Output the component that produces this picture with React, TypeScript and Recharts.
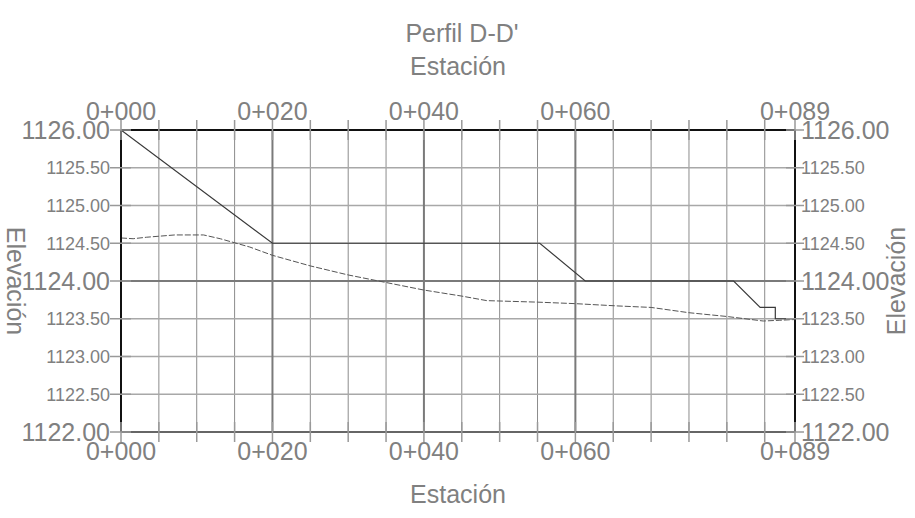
import { ComposedChart, Line, XAxis, YAxis, ReferenceLine } from "recharts";

// --- Perfil D-D' data ---
const DESIGN_STATIONS = [0, 20, 55.3, 61.3, 80.9, 84.4, 86.4, 86.4, 89];
const DESIGN_ELEV = [1126.0, 1124.5, 1124.5, 1124.0, 1124.0, 1123.65, 1123.65, 1123.5, 1123.5];

const TERRAIN_STATIONS = [0, 1.6, 3.4, 7.1, 10.9, 13.1, 17, 20, 25, 30, 35, 40, 45, 48.3, 55, 60, 65.5, 70, 75, 80, 84.8, 87, 89];
const TERRAIN_ELEV = [
  1124.57, 1124.56, 1124.58, 1124.61, 1124.61, 1124.56, 1124.45, 1124.34, 1124.2, 1124.08, 1123.98, 1123.88,
  1123.8, 1123.74, 1123.72, 1123.7, 1123.67, 1123.65, 1123.58, 1123.53, 1123.47, 1123.48, 1123.49,
];

// axis ticks
const STATION_TICKS = [0, 5, 10, 15, 20, 25, 30, 35, 40, 45, 50, 55, 60, 65, 70, 75, 80, 85, 89];
const STATION_LABELS = [0, 20, 40, 60, 89];
const STATION_MINOR = [5, 10, 15, 25, 30, 35, 45, 50, 55, 65, 70, 75, 80, 85];
const STATION_MAJOR = [20, 40, 60];

const ELEV_TICKS = [1122, 1122.5, 1123, 1123.5, 1124, 1124.5, 1125, 1125.5, 1126];
const ELEV_LABELS_BIG = [1122, 1124, 1126];
const ELEV_MINOR = [1122.5, 1123, 1123.5, 1124.5, 1125, 1125.5];
const ELEV_MAJOR = [1124];

const designData = DESIGN_STATIONS.map((st, i) => ({ st, elev: DESIGN_ELEV[i] }));
const terrainData = TERRAIN_STATIONS.map((st, i) => ({ st, elev: TERRAIN_ELEV[i] }));

const FONT = "'Liberation Sans', Arial, sans-serif";
const TEXT = "#808080";

const fmtStation = (v: number) => `${Math.floor(v / 1000)}+${String(Math.round(v % 1000)).padStart(3, "0")}`;

function StationTick({ x, y, payload, top }: any) {
  const v = payload.value;
  return (
    <g>
      <line x1={x} x2={x} y1={y - 10} y2={y + 10} stroke="#999" strokeWidth={1.5} />
      {STATION_LABELS.includes(v) && (
        <text x={x} y={top ? y - 10 : y + 28} textAnchor="middle" fontSize={25} fill={TEXT} fontFamily={FONT}>
          {fmtStation(v)}
        </text>
      )}
    </g>
  );
}

function ElevTick({ x, y, payload, right }: any) {
  const v = payload.value;
  const fs = ELEV_LABELS_BIG.includes(v) ? 25 : 18;
  return (
    <g>
      <line x1={right ? x - 9 : x - 11} x2={right ? x + 9 : x + 10} y1={y} y2={y} stroke="#999" strokeWidth={1.5} />
      <text
        x={right ? x + 6 : x - 11}
        y={y + fs * 0.36}
        textAnchor={right ? "start" : "end"}
        fontSize={fs}
        fill={TEXT}
        fontFamily={FONT}
      >
        {v.toFixed(2)}
      </text>
    </g>
  );
}

export default function App() {
  return (
    <div style={{ position: "absolute", left: 0, top: 0, width: 915, height: 518, background: "#fff" }}>
      <ComposedChart width={915} height={518} margin={{ top: 70, right: 20, bottom: 26, left: 21 }}>
        <XAxis
          xAxisId="bot"
          dataKey="st"
          type="number"
          domain={[0, 89]}
          allowDataOverflow
          ticks={STATION_TICKS}
          interval={0}
          height={60}
          tickSize={0}
          tickMargin={0}
          axisLine={{ stroke: "#666", strokeWidth: 2 }}
          tick={(p: any) => <StationTick {...p} />}
          label={({ viewBox }: any) => (
            <text x={viewBox.x + viewBox.width / 2} y={viewBox.y + 71} textAnchor="middle" fontSize={25} fill={TEXT} fontFamily={FONT}>
              Estación
            </text>
          )}
        />
        <XAxis
          xAxisId="top"
          orientation="top"
          dataKey="st"
          type="number"
          domain={[0, 89]}
          allowDataOverflow
          ticks={STATION_TICKS}
          interval={0}
          height={60}
          tickSize={0}
          tickMargin={0}
          axisLine={{ stroke: "#111", strokeWidth: 2 }}
          tick={(p: any) => <StationTick {...p} top />}
          label={({ viewBox }: any) => (
            <g>
              <text x={viewBox.x + viewBox.width / 2 + 4} y={viewBox.y - 28} textAnchor="middle" fontSize={25} fill={TEXT} fontFamily={FONT}>
                Perfil D-D'
              </text>
              <text x={viewBox.x + viewBox.width / 2} y={viewBox.y + 5} textAnchor="middle" fontSize={25} fill={TEXT} fontFamily={FONT}>
                Estación
              </text>
            </g>
          )}
        />
        <YAxis
          yAxisId="l"
          type="number"
          domain={[1122, 1126]}
          allowDataOverflow
          ticks={ELEV_TICKS}
          interval={0}
          width={100}
          tickSize={0}
          tickMargin={0}
          axisLine={{ stroke: "#111", strokeWidth: 2 }}
          tick={(p: any) => <ElevTick {...p} />}
          label={({ viewBox }: any) => {
            const cx = viewBox.x - 14;
            const cy = viewBox.y + viewBox.height / 2;
            return (
              <text x={cx} y={cy} transform={`rotate(90 ${cx} ${cy})`} textAnchor="middle" fontSize={25} fill={TEXT} fontFamily={FONT}>
                Elevación
              </text>
            );
          }}
        />
        <YAxis
          yAxisId="r"
          orientation="right"
          type="number"
          domain={[1122, 1126]}
          allowDataOverflow
          ticks={ELEV_TICKS}
          interval={0}
          width={100}
          tickSize={0}
          tickMargin={0}
          axisLine={{ stroke: "#111", strokeWidth: 2 }}
          tick={(p: any) => <ElevTick {...p} right />}
          label={({ viewBox }: any) => {
            const cx = viewBox.x + 110;
            const cy = viewBox.y + viewBox.height / 2;
            return (
              <text x={cx} y={cy} transform={`rotate(-90 ${cx} ${cy})`} textAnchor="middle" fontSize={25} fill={TEXT} fontFamily={FONT}>
                Elevación
              </text>
            );
          }}
        />

        {/* grid */}
        {STATION_MINOR.map((v) => (
          <ReferenceLine key={`sx${v}`} x={v} xAxisId="bot" yAxisId="l" stroke="#8c8c8c" strokeWidth={1} />
        ))}
        {ELEV_MINOR.map((v) => (
          <ReferenceLine key={`ey${v}`} y={v} xAxisId="bot" yAxisId="l" stroke="#a8a8a8" strokeWidth={1.5} />
        ))}
        {STATION_MAJOR.map((v) => (
          <ReferenceLine key={`SX${v}`} x={v} xAxisId="bot" yAxisId="l" stroke="#7a7a7a" strokeWidth={2} />
        ))}
        {ELEV_MAJOR.map((v) => (
          <ReferenceLine key={`EY${v}`} y={v} xAxisId="bot" yAxisId="l" stroke="#7a7a7a" strokeWidth={2} />
        ))}

        <Line
          data={terrainData}
          xAxisId="bot"
          yAxisId="l"
          dataKey="elev"
          type="linear"
          stroke="#555"
          strokeWidth={1}
          strokeDasharray="6 2"
          dot={false}
          isAnimationActive={false}
        />
        <Line
          data={designData}
          xAxisId="bot"
          yAxisId="l"
          dataKey="elev"
          type="linear"
          stroke="#3a3a3a"
          strokeWidth={1.2}
          dot={false}
          isAnimationActive={false}
        />
      </ComposedChart>
    </div>
  );
}
